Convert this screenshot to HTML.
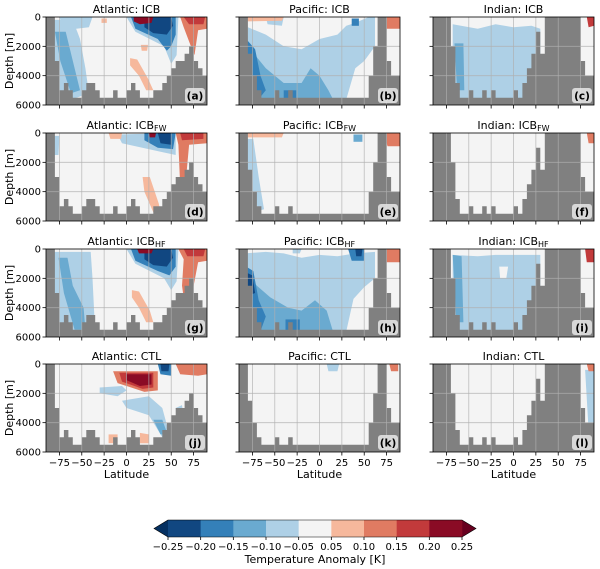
<!DOCTYPE html>
<html><head><meta charset="utf-8"><style>
html,body{margin:0;padding:0;background:#fff;}
svg{display:block;font-family:"DejaVu Sans","Liberation Sans",sans-serif;}
</style></head><body>
<svg id="fig" xmlns="http://www.w3.org/2000/svg" width="600" height="569" viewBox="0 0 600 569">
<defs></defs>
<g id="panels"></g>
<g id="cbar"></g>
</svg>
<script>
// ---- data ----
const basins = ["Atlantic", "Pacific", "Indian"];
const experiments = ["ICB", "ICB_FW", "ICB_HF", "CTL"];
const panelLetters = ["a","b","c","d","e","f","g","h","i","j","k","l"];
const latTicks = [-75, -50, -25, 0, 25, 50, 75];
const depthTicks = [0, 2000, 4000, 6000];
const levels = [-0.25,-0.20,-0.15,-0.10,-0.05,0.05,0.10,0.15,0.20,0.25];
const levelLabels = ["\u22120.25","\u22120.20","\u22120.15","\u22120.10","\u22120.05","0.05","0.10","0.15","0.20","0.25"];
// seafloor depth per 5-degree latitude bin (-90..90), 0 = land
const floorAtlantic = [0,0,3000,5000,4500,5000,5500,5500,5000,4500,4500,5000,5500,5500,5500,5000,5500,5500,5000,4500,5000,5500,5500,5500,5000,5000,4500,4000,3500,3000,3000,2500,2000,3000,3500,4000];
const floorPacific  = [0,0,2500,4000,5000,5500,5500,5500,5000,5500,5500,5000,5500,5500,5500,5500,5500,5500,5500,5500,5500,5500,5500,5500,5500,5500,5500,5500,5500,4000,2000,0,0,3000,4000,4000];
const floorIndian   = [0,0,0,0,2000,4500,5500,5500,5000,5500,5500,5000,5500,5000,5500,5500,5500,5500,5000,5500,4500,3500,2500,1000,2500,0,0,0,0,0,0,0,0,3000,4000,4000];
// anomaly features: [value, [lat,depth,...]]
const fieldA = [
 [-0.075,[-84,200,-60,200,-52,1500,-46,3500,-42,5200,-60,5600,-78,5200,-84,2000]],
 [-0.075,[-75,0,-38,0,-42,700,-70,900]],
 [-0.125,[-80,1000,-68,1000,-58,3500,-52,5000,-62,5200,-74,3000]],
 [-0.075,[0,0,58,0,56,2600,50,3200,42,2000,10,1000]],
 [-0.175,[5,0,55,0,55,1200,50,2000,45,2300,35,1500,10,800]],
 [-0.225,[20,100,30,0,50,0,52,600,45,1200,30,1100,20,700]],
 [0.225,[8,0,30,0,28,400,15,500,8,300]],
 [0.125,[60,0,90,0,90,800,80,900,76,2600,72,2000,64,700]],
 [0.175,[64,0,88,0,86,500,70,500]],
 [0.075,[4,2800,12,2900,24,4200,30,5000,22,5000,14,4000,4,3300]],
 [0.075,[16,1900,24,1900,23,2300,17,2300]],
 [0.075,[-28,100,-22,100,-22,400,-28,400]]
];
const fieldB = [
 [-0.075,[-80,700,-60,1200,-40,2000,-20,2200,0,1500,20,1200,30,600,40,400,55,0,62,0,62,2000,50,3000,40,3500,30,5600,-82,5600]],
 [-0.075,[-60,0,-40,0,-42,600,-58,500]],
 [-0.125,[-80,2000,-60,3500,-40,4500,-20,4500,-10,3500,0,4000,10,5000,15,5600,-82,5600]],
 [-0.175,[-82,1500,-72,2200,-66,4000,-60,5000,-68,5600,-82,5600]],
 [-0.175,[-40,5000,-26,5000,-26,5600,-40,5600]],
 [-0.175,[36,100,44,100,44,600,36,600]],
 [0.075,[-82,0,-40,0,-42,250,-80,300]],
 [0.125,[70,0,90,0,90,800,75,800]]
];
const fieldC = [
 [-0.075,[-68,500,-40,800,-20,500,0,700,20,600,30,800,30,5600,-68,5600]],
 [-0.125,[-66,1800,-56,1800,-55,5000,-63,5000]],
 [0.175,[82,0,90,0,90,600,84,700]]
];
const fieldD = [
 [-0.075,[-82,200,-75,200,-76,1500,-82,1500]],
 [-0.075,[-10,100,55,0,55,1500,40,1300,-5,700]],
 [-0.175,[20,0,55,0,52,1100,35,1000,20,500]],
 [-0.225,[35,0,50,0,50,800,38,700]],
 [0.225,[25,0,33,0,32,300,26,300]],
 [0.075,[-20,0,-5,0,-6,400,-18,400]],
 [0.125,[55,0,90,0,90,700,70,800,66,3500,60,3600,58,800]],
 [0.175,[60,0,86,0,86,400,62,500]],
 [0.075,[18,3000,26,3000,36,4800,38,5400,30,5400,20,4000]]
];
const fieldE = [
 [-0.075,[-82,400,-74,400,-68,3000,-62,5200,-68,5300,-80,3000]],
 [0.075,[-82,0,-40,0,-42,300,-80,300]],
 [-0.125,[38,100,48,100,48,600,38,600]],
 [0.125,[72,0,90,0,90,900,76,900]]
];
const fieldF = [
 [0.125,[82,0,90,0,90,700,84,700]]
];
const fieldG = [
 [-0.075,[-84,200,-40,200,-38,2000,-36,4500,-38,5600,-78,5600,-84,2000]],
 [-0.125,[-76,600,-66,600,-60,2500,-48,4000,-46,5500,-58,5500,-70,3000]],
 [-0.075,[0,0,58,0,56,2200,50,2800,42,2000,10,1000]],
 [-0.175,[5,0,55,0,55,1200,48,1800,35,1500,10,800]],
 [-0.225,[20,100,30,0,50,0,52,600,45,1200,30,1100,20,700]],
 [0.225,[12,0,30,0,28,300,14,300]],
 [0.125,[58,0,90,0,90,800,80,900,72,3500,66,4200,62,2500,64,700]],
 [0.175,[64,0,88,0,86,500,68,500]],
 [0.075,[6,2800,14,2900,26,4200,30,5000,22,5000,14,4000,6,3300]]
];
const fieldH = [
 [-0.075,[-84,300,-60,200,-40,300,-20,600,0,400,20,500,40,300,62,200,62,2000,50,2600,38,3400,30,5600,-84,5600]],
 [-0.125,[-84,1500,-70,2500,-55,3300,-35,4000,-20,4200,-5,3500,8,4200,15,5600,-84,5600]],
 [-0.175,[-82,1200,-74,1500,-68,3500,-60,4600,-66,5600,-82,5600]],
 [-0.225,[-82,1600,-75,1800,-72,3000,-80,3200]],
 [-0.175,[-38,4800,-22,4800,-22,5600,-38,5600]],
 [-0.175,[32,0,50,0,50,800,36,800]],
 [-0.225,[40,0,48,0,47,500,41,500]],
 [0.125,[68,0,90,0,90,900,75,900]],
 [-0.075,[-30,0,-20,0,-22,300,-30,300]]
];
const fieldI = [
 [-0.075,[-68,400,-40,500,-20,400,30,400,30,5600,-68,5600]],
 [-0.125,[-68,400,-58,500,-56,5000,-64,5000]],
 [0.025,[-16,1200,-6,1200,-8,2000,-15,2000]],
 [0.175,[80,0,90,0,90,900,82,900]]
];
const fieldJ = [
 [-0.075,[-30,1600,-5,1500,0,1800,-10,2200,-30,2000]],
 [-0.075,[-5,2500,25,2200,40,3000,48,4800,40,5000,25,3500,0,3000]],
 [-0.125,[30,3800,40,3800,46,4800,38,4800]],
 [0.125,[-15,500,35,500,35,1800,20,1900,-10,1300]],
 [0.175,[-8,600,30,600,30,1600,18,1700,-5,1200]],
 [0.225,[0,700,28,700,28,1400,15,1500,0,1100]],
 [-0.175,[35,0,50,0,50,800,38,700]],
 [-0.225,[38,0,48,0,47,500,39,500]],
 [0.125,[55,0,90,0,90,700,80,800,60,700]],
 [0.075,[-20,4800,-10,4800,-10,5400,-20,5400]],
 [0.075,[15,4700,25,4800,25,5400,15,5400]],
 [-0.075,[55,3000,62,2800,65,4000,58,4000]]
];
const fieldK = [
 [-0.075,[8,0,22,0,20,500,10,500]],
 [0.125,[78,0,88,0,88,500,80,500]]
];
const fieldL = [
 [-0.075,[80,400,90,400,90,4500,84,4500]],
 [0.125,[82,0,90,0,90,500,84,500]]
];
const fields = [fieldA,fieldB,fieldC,fieldD,fieldE,fieldF,fieldG,fieldH,fieldI,fieldJ,fieldK,fieldL];
const floors = [floorAtlantic, floorPacific, floorIndian];

// ---- drawing ----
const NS = "http://www.w3.org/2000/svg";
const colX = [46, 239, 433], rowY = [17, 133, 249, 364], PW = 161, PH = 88;
const blueColors = ["#114781","#3480b9","#6aaad0","#aed0e6"];
const redColors = ["#f6b89c","#e07b62","#c23a3b","#8a0b25"];
function colorFor(v){
  if (v < -0.25) return "#053061";
  if (v >= 0.25) return "#67001f";
  if (v < -0.05) return blueColors[Math.min(3, Math.floor((v+0.25)/0.05+1e-9))];
  if (v < 0.05) return "#f4f4f4";
  return redColors[Math.min(3, Math.floor((v-0.05)/0.05+1e-9))];
}
function mk(tag, attrs, parent){
  const e = document.createElementNS(NS, tag);
  for (const k in attrs) e.setAttribute(k, attrs[k]);
  if (parent) parent.appendChild(e);
  return e;
}
const defs = document.querySelector("defs");
const root = document.getElementById("panels");
for (let r = 0; r < 4; r++) for (let c = 0; c < 3; c++) {
  const idx = r*3+c, x0 = colX[c], y0 = rowY[r];
  const sx = lat => x0 + (lat+90)/180*PW;
  const sy = d => y0 + d/6000*PH;
  const cp = mk("clipPath", {id:"cp"+idx}, defs);
  mk("rect", {x:x0, y:y0, width:PW, height:PH}, cp);
  const g = mk("g", {}, root);
  
  
  const fg = mk("g", {"clip-path":"url(#cp"+idx+")"}, g);
  const bg = mk("rect", {x:x0, y:y0, width:PW, height:PH, fill:"#f4f4f4"}, fg);
  
  
  fields[idx].forEach(([v, pts]) => {
    let s = [];
    for (let i = 0; i < pts.length; i += 2) s.push(sx(pts[i]).toFixed(1)+","+sy(pts[i+1]).toFixed(1));
    const p = mk("polygon", {points:s.join(" "), fill:colorFor(v)}, fg);
    
    
  });
  const fl = floors[c];
  let s = [sx(-90)+","+sy(6000)];
  fl.forEach((d, i) => { const la = -90+i*5; s.push(sx(la).toFixed(1)+","+sy(d).toFixed(1)); s.push(sx(la+5).toFixed(1)+","+sy(d).toFixed(1)); });
  s.push(sx(90)+","+sy(6000));
  const bath = mk("polygon", {points:s.join(" "), fill:"#808080"}, fg);
  
  
  latTicks.forEach(t => mk("line", {x1:sx(t), x2:sx(t), y1:y0, y2:y0+PH, stroke:"#b0b0b0", "stroke-width":0.8, opacity:0.8}, fg));
  [2000,4000].forEach(t => mk("line", {x1:x0, x2:x0+PW, y1:sy(t), y2:sy(t), stroke:"#b0b0b0", "stroke-width":0.8, opacity:0.8}, fg));
  const fr = mk("rect", {x:x0, y:y0, width:PW, height:PH, fill:"none", stroke:"#000", "stroke-width":0.8}, g);
  
  
  latTicks.forEach(t => {
    mk("line", {x1:sx(t), x2:sx(t), y1:y0+PH, y2:y0+PH+3.5, stroke:"#000", "stroke-width":0.8}, g);
    if (r === 3) {
      const tl = mk("text", {x:sx(t), y:y0+PH+14, "font-size":10, "text-anchor":"middle"}, g);
      tl.textContent = t < 0 ? "\u2212"+(-t) : String(t);
      
      
    }
  });
  depthTicks.forEach(t => {
    mk("line", {x1:x0-3.5, x2:x0, y1:sy(t), y2:sy(t), stroke:"#000", "stroke-width":0.8}, g);
    if (c === 0) {
      const tl = mk("text", {x:x0-5, y:sy(t)+3.5, "font-size":10, "text-anchor":"end"}, g);
      tl.textContent = String(t);
      
      
    }
  });
  if (c === 0) {
    const yl = mk("text", {x:13, y:y0+PH/2, "font-size":11, "text-anchor":"middle", transform:"rotate(-90 13 "+(y0+PH/2)+")"}, g);
    yl.textContent = "Depth [m]";
    
    
  }
  if (r === 3) {
    const xl = mk("text", {x:x0+PW/2, y:y0+PH+26, "font-size":11, "text-anchor":"middle"}, g);
    xl.textContent = "Latitude";
    
    
  }
  const ti = mk("text", {x:x0+PW/2, y:y0-4, "font-size":11, "text-anchor":"middle"}, g);
  
  
  const ex = experiments[r];
  if (ex.indexOf("_") > 0) {
    const parts = ex.split("_");
    const t1 = mk("tspan", {}, ti); t1.textContent = basins[c]+": "+parts[0];
    const t2 = mk("tspan", {"font-size":8, dy:2}, ti); t2.textContent = parts[1];
  } else ti.textContent = basins[c]+": "+ex;
  const lb = mk("rect", {x:x0+PW-22, y:y0+PH-17, width:20, height:15, rx:3, fill:"#e8e8e8", opacity:0.85}, g);
  
  
  const lt = mk("text", {x:x0+PW-12, y:y0+PH-5.5, "font-size":10.5, "font-weight":"bold", "text-anchor":"middle"}, g);
  lt.textContent = "("+panelLetters[idx]+")";
  
  
}
// colorbar
const cb = document.getElementById("cbar");
const cbX0 = 168, cbX1 = 462, cbY = 520, cbH = 17;
const cw = (cbX1-cbX0)/(levels.length-1);
const lt1 = mk("polygon", {points:`${cbX0},${cbY} ${cbX0-14},${cbY+cbH/2} ${cbX0},${cbY+cbH}`, fill:colorFor(-1)}, cb);


const rt1 = mk("polygon", {points:`${cbX1},${cbY} ${cbX1+14},${cbY+cbH/2} ${cbX1},${cbY+cbH}`, fill:colorFor(1)}, cb);


for (let i = 0; i < levels.length-1; i++) {
  const mid = (levels[i]+levels[i+1])/2;
  const rc = mk("rect", {x:cbX0+i*cw, y:cbY, width:cw+0.3, height:cbH, fill:colorFor(mid)}, cb);
  
  
}
mk("polygon", {points:`${cbX0},${cbY} ${cbX0-14},${cbY+cbH/2} ${cbX0},${cbY+cbH} ${cbX1},${cbY+cbH} ${cbX1+14},${cbY+cbH/2} ${cbX1},${cbY}`, fill:"none", stroke:"#000", "stroke-width":0.6}, cb);
levels.forEach((lv, i) => {
  const x = cbX0+i*cw;
  mk("line", {x1:x, x2:x, y1:cbY+cbH, y2:cbY+cbH+3, stroke:"#000", "stroke-width":0.8}, cb);
  const t = mk("text", {x:x, y:cbY+cbH+13, "font-size":10, "text-anchor":"middle"}, cb);
  t.textContent = levelLabels[i];
  
  
});
const ct = mk("text", {x:(cbX0+cbX1)/2, y:cbY+cbH+26, "font-size":11, "text-anchor":"middle"}, cb);
ct.textContent = "Temperature Anomaly [K]";


</script>
</body></html>
